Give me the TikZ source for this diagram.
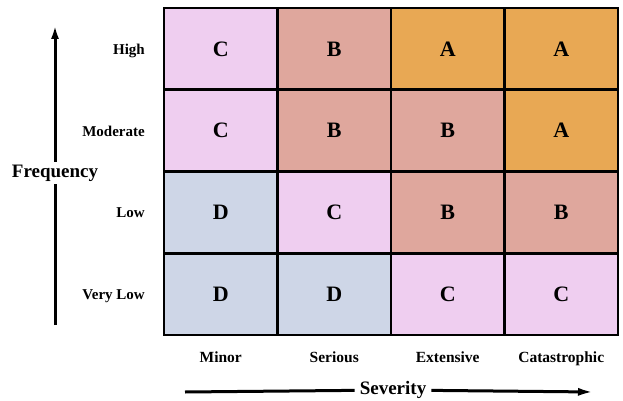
\documentclass[tikz,border=0pt]{standalone}
\usepackage{fontspec}
\setmainfont{Liberation Serif}
\usetikzlibrary{arrows.meta,positioning}

\definecolor{riskA}{RGB}{232,168,84}
\definecolor{riskB}{RGB}{223,167,157}
\definecolor{riskC}{RGB}{239,206,240}
\definecolor{riskD}{RGB}{206,214,231}

\tikzset{
  cell/.style={draw=black, line width=2.6pt, minimum width=113.5pt, minimum height=81.75pt,
    inner sep=0pt, outer sep=0pt, anchor=north west, font=\fontsize{22}{22}\selectfont\bfseries},
  rowlab/.style={inner sep=0pt, anchor=base east, font=\fontsize{15}{15}\selectfont\bfseries},
  collab/.style={inner sep=0pt, anchor=base, font=\fontsize{15.5}{15.5}\selectfont\bfseries},
  axislab/.style={fill=white, inner xsep=5pt, inner ysep=3pt, font=\fontsize{19}{19}\selectfont\bfseries},
  axisline/.style={line width=3pt},
}

\begin{document}
\begin{tikzpicture}[x=1pt,y=-1pt]
\useasboundingbox (0,0) rectangle (623,401);

% Risk matrix cells
\foreach \r/\c/\lvl in {0/0/C,0/1/B,0/2/A,0/3/A,
                        1/0/C,1/1/B,1/2/B,1/3/A,
                        2/0/D,2/1/C,2/2/B,2/3/B,
                        3/0/D,3/1/D,3/2/C,3/3/C} {
  \node[cell, fill=risk\lvl] (c\r\c) at ({164+113.5*\c},{8+81.75*\r}) {\lvl};
}

% Frequency labels on left
\foreach \r/\lab in {0/High,1/Moderate,2/Low,3/Very Low} {
  \node[rowlab] (f\r) at ({145},{8+81.75*\r+40.9+5.5}) {\lab};
}

% Severity labels below
\foreach \c/\lab in {0/Minor,1/Serious,2/Extensive,3/Catastrophic} {
  \node[collab] (s\c) at ({164+113.5*\c+56.75},362) {\lab};
}

% Axes
\coordinate (fbot) at (55,325);
\coordinate (ftop) at (55,25);
\node[axislab] (freq) at (55,173) {Frequency};
\draw[axisline] (fbot) -- (freq);
\draw[axisline, -{Latex[length=14pt,width=8pt]}] (freq) -- (ftop);

\coordinate (sleft) at (185,392);
\coordinate (sright) at (594,392);
\node[axislab] (sev) at (393,390) {Severity};
\draw[axisline] (sleft) -- (sev);
\draw[axisline, -{Latex[length=16pt,width=8pt]}] (sev) -- (sright);

\end{tikzpicture}
\end{document}
